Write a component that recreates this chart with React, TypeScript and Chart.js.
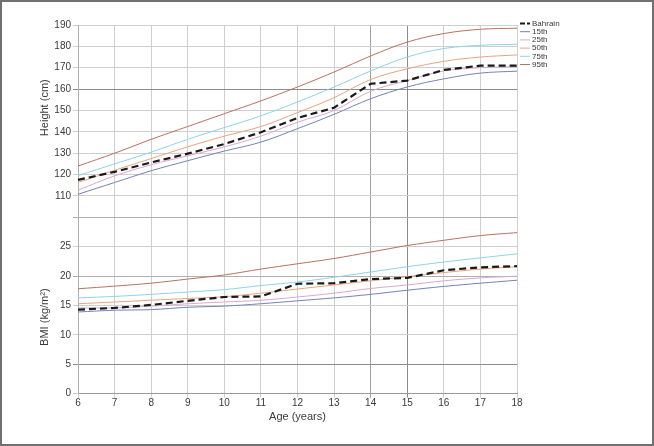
import React, { useEffect, useRef } from 'react';
import { Chart, registerables } from 'chart.js';

Chart.register(...registerables);

const FONT = '"Liberation Sans Narrow", "Arial Narrow", "Liberation Sans", Arial, sans-serif';

// Age categories (years)
const ages = ['6', '7', '8', '9', '10', '11', '12', '13', '14', '15', '16', '17', '18'];

// Height (cm)
const bahrainHeight = [117.5, 121.3, 125.7, 129.8, 134.3, 139.8, 146.5, 151.3, 162.5, 164, 169, 171, 171];
const height15 = [110.8, 116.3, 121.8, 126.5, 131, 135.2, 141.5, 148.2, 155.5, 161, 164.8, 167.5, 168.4];
const height25 = [112.7, 119.4, 124.6, 128.8, 133, 138, 144.5, 150, 159, 164, 168.5, 170, 170.5];
const height50 = [116.3, 122, 127.5, 133, 138, 142.5, 149, 156, 164.5, 169.5, 173, 175, 176];
const height75 = [119.5, 125, 130.5, 136.5, 142, 147.5, 154, 161, 168.5, 175, 179, 180.5, 181];
const height95 = [124, 130, 136.5, 142.5, 148.5, 154.5, 161, 168, 175.5, 182, 186, 188, 188.5];

// BMI (kg/m²)
const bahrainBMI = [14.3, 14.6, 15.1, 15.8, 16.45, 16.55, 18.7, 18.8, 19.5, 19.7, 21, 21.5, 21.7];
const bmi15 = [13.9, 14.2, 14.3, 14.7, 14.9, 15.3, 15.8, 16.3, 16.9, 17.6, 18.25, 18.8, 19.3];
const bmi25 = [14.6, 14.6, 14.9, 15.3, 15.6, 15.9, 16.45, 17.1, 17.9, 18.5, 19.2, 19.7, 20];
const bmi50 = [15.3, 15.6, 15.9, 16.2, 16.5, 17.1, 17.8, 18.5, 19.2, 19.9, 20.6, 21.2, 21.6];
const bmi75 = [16.3, 16.55, 16.9, 17.3, 17.7, 18.4, 19, 19.8, 20.7, 21.6, 22.4, 23.1, 23.8];
const bmi95 = [17.85, 18.3, 18.8, 19.5, 20.2, 21.2, 22.1, 23, 24.1, 25.2, 26.1, 26.9, 27.4];

const seriesLabels = ['Bahrain', '15th', '25th', '50th', '75th', '95th'];
const seriesColors = ['#1a1a1a', '#7483b8', '#d9a9cf', '#e9a47f', '#8fd3e4', '#b9725f'];

const heightTitle = 'Height (cm)';
const bmiTitle = 'BMI (kg/m²)';
const xTitle = 'Age (years)';

const TEXT = '#3a3a3a';
const GRID = '#cfcfcf';

const sideLegend = {
  id: 'sideLegend',
  afterDraw(chart: any) {
    const ctx = chart.ctx;
    const area = chart.chartArea;
    const x0 = area.right + 3;
    const y0 = area.top - 1.5;
    ctx.save();
    ctx.font = `8px ${FONT}`;
    ctx.textBaseline = 'middle';
    ctx.textAlign = 'left';
    chart.data.datasets.slice(0, seriesLabels.length).forEach((ds: any, i: number) => {
      const y = y0 + i * 8.2;
      ctx.beginPath();
      ctx.strokeStyle = ds.borderColor;
      ctx.lineWidth = i === 0 ? 2 : 1;
      ctx.setLineDash(i === 0 ? [5, 2] : []);
      ctx.moveTo(x0, y);
      ctx.lineTo(x0 + 10, y);
      ctx.stroke();
      ctx.setLineDash([]);
      ctx.fillStyle = TEXT;
      ctx.fillText(ds.label, x0 + 12, y);
    });
    ctx.restore();
  },
};

const yTitles = {
  id: 'yTitles',
  afterDraw(chart: any) {
    const ctx = chart.ctx;
    const draw = (text: string, scale: any, frac: number) => {
      ctx.save();
      ctx.translate(scale.left + 7, scale.top + scale.height * frac);
      ctx.rotate(-Math.PI / 2);
      ctx.font = `11px ${FONT}`;
      ctx.fillStyle = TEXT;
      ctx.textAlign = 'center';
      ctx.textBaseline = 'middle';
      ctx.fillText(text, 0, 0);
      ctx.restore();
    };
    draw(heightTitle, chart.scales.yH, 0.43);
    draw(bmiTitle, chart.scales.yB, 0.566);
  },
};

export default function App() {
  const ref = useRef<HTMLCanvasElement>(null);

  useEffect(() => {
    if (!ref.current) return;
    const heights = [bahrainHeight, height15, height25, height50, height75, height95];
    const bmis = [bahrainBMI, bmi15, bmi25, bmi50, bmi75, bmi95];
    const mk = (vals: number[], i: number, axis: string) => ({
      label: seriesLabels[i],
      data: vals,
      yAxisID: axis,
      borderColor: seriesColors[i],
      backgroundColor: seriesColors[i],
      borderWidth: i === 0 ? 2.2 : 1,
      borderDash: i === 0 ? [7, 4] : [],
      pointRadius: 0,
      tension: i === 0 ? 0 : 0.35,
      fill: false,
    });
    const datasets = [
      ...heights.map((v, i) => mk(v, i, 'yH')),
      ...bmis.map((v, i) => mk(v, i, 'yB')),
    ];
    const tickFont = { family: FONT, size: 10 };

    const chart = new Chart(ref.current, {
      type: 'line',
      data: { labels: ages, datasets },
      options: {
        responsive: false,
        animation: false,
        devicePixelRatio: 1,
        layout: { padding: { left: 38, right: 137, top: 25, bottom: 22.5 } },
        plugins: { legend: { display: false }, tooltip: { enabled: false } },
        scales: {
          x: {
            type: 'category',
            grid: {
              color: (c: any) => (c.tick && c.tick.value === 9 ? '#8c8c8c' : c.tick && c.tick.value === 8 ? '#a0a0a0' : GRID),
              tickLength: 4,
            },
            border: { color: '#9a9a9a' },
            ticks: { font: tickFont, color: TEXT, padding: 0, maxRotation: 0, autoSkip: false },
            title: { display: true, text: xTitle, font: { family: FONT, size: 11 }, color: TEXT, padding: { top: 0, bottom: 0 } },
            afterFit: (s: any) => { s.height = 29.8; },
          },
          yB: {
            type: 'linear',
            position: 'left',
            stack: 'v',
            stackWeight: 176.5,
            min: 0,
            max: 30,
            grid: {
              color: (c: any) => (c.tick && c.tick.value === 5 ? '#8c8c8c' : c.tick && (c.tick.value === 20 || c.tick.value === 30) ? '#b0b0b0' : GRID),
              tickLength: 5,
            },
            border: { color: '#b0b0b0' },
            ticks: {
              stepSize: 5,
              autoSkip: false,
              font: tickFont,
              color: TEXT,
              padding: 2,
              callback: (v: any) => (v === 30 ? '' : String(v)),
            },
            afterFit: (s: any) => { s.width = 40; },
          },
          yH: {
            type: 'linear',
            position: 'left',
            stack: 'v',
            stackWeight: 192.5,
            min: 100,
            max: 190,
            grid: {
              color: (c: any) => (c.tick && c.tick.value === 160 ? '#8c8c8c' : c.tick && c.tick.value === 100 ? '#b0b0b0' : GRID),
              tickLength: 5,
            },
            border: { color: '#b0b0b0' },
            ticks: {
              stepSize: 10,
              autoSkip: false,
              font: tickFont,
              color: TEXT,
              padding: 2,
              callback: (v: any) => (v === 100 ? '' : String(v)),
            },
            afterFit: (s: any) => { s.width = 40; },
          },
        },
      },
      plugins: [sideLegend, yTitles],
    } as any);
    return () => chart.destroy();
  }, []);

  return (
    <div style={{ position: 'fixed', left: 0, top: 0, width: 654, height: 446, background: '#fff' }}>
      <canvas ref={ref} width={654} height={446} style={{ position: 'absolute', left: 0, top: 0, width: 654, height: 446 }} />
      <div
        style={{
          position: 'absolute',
          left: 0,
          top: 0,
          width: 654,
          height: 446,
          boxSizing: 'border-box',
          border: '2px solid #707070',
          pointerEvents: 'none',
        }}
      />
    </div>
  );
}
